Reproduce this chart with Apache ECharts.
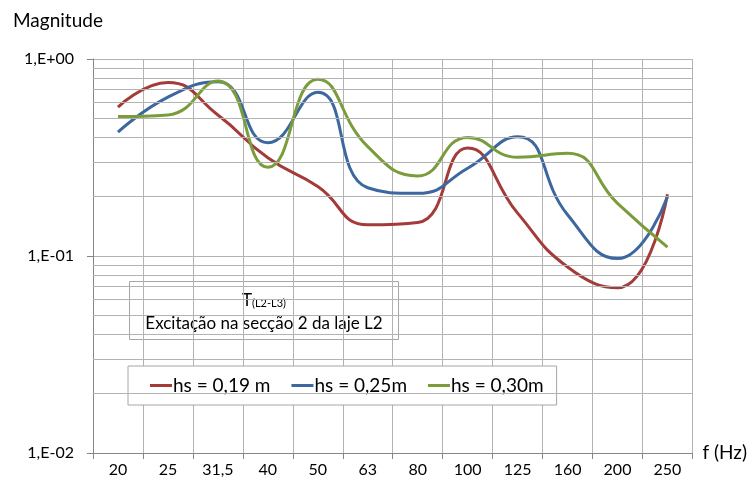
<!DOCTYPE html>
<html>
<head>
<meta charset="utf-8">
<script src="https://cdn.jsdelivr.net/npm/echarts@6/dist/echarts.min.js"></script>
<style>
  html, body { margin: 0; padding: 0; background: #fff; }
  #chart { width: 750px; height: 486px; }
</style>
</head>
<body>
<div id="chart"></div>
<script>
const categories = ['20', '25', '31,5', '40', '50', '63', '80', '100', '125', '160', '200', '250']
const hs019 = [0.57, 0.76, 0.52, 0.315, 0.225, 0.144, 0.148, 0.353, 0.165, 0.088, 0.069, 0.206]
const hs025 = [0.425, 0.64, 0.767, 0.376, 0.677, 0.222, 0.208, 0.279, 0.403, 0.162, 0.097, 0.2]
const hs030 = [0.51, 0.52, 0.773, 0.282, 0.789, 0.359, 0.255, 0.40, 0.317, 0.332, 0.185, 0.111]
const seriesNames = ['hs = 0,19 m', 'hs = 0,25m', 'hs = 0,30m']
const minorGrid = [0.02, 0.03, 0.04, 0.05, 0.06, 0.07, 0.08, 0.09, 0.2, 0.3, 0.4, 0.5, 0.6, 0.7, 0.8, 0.9]

const font = 'Lato'
const colors = ['#a33b39', '#3c679f', '#7a9c3a']
const gridColor = '#b3b3b3'
const axisColor = '#868686'

const fmtExp = (v) => {
    const e = Math.round(Math.log10(v))
    const a = Math.abs(e)
    return '1,E' + (e >= 0 ? '+' : '-') + (a < 10 ? '0' : '') + a
}

const chart = echarts.init(document.getElementById('chart'))
chart.setOption({
    animation: false,
    color: colors,
    textStyle: { fontFamily: font },
    title: {
        text: 'Magnitude',
        left: 8,
        top: 6,
        textStyle: { fontFamily: font, fontSize: 19, fontWeight: 'normal', color: '#000' }
    },
    grid: { left: 93, right: 54, top: 59, bottom: 33 },
    legend: {
        data: seriesNames,
        left: 128,
        top: 366,
        padding: [10, 13, 10, 22],
        backgroundColor: '#fff',
        borderColor: '#a6a6a6',
        borderWidth: 1,
        icon: 'rect',
        itemWidth: 22,
        itemHeight: 3,
        itemGap: 21,
        textStyle: { fontFamily: font, fontSize: 19, color: '#000', padding: [0, 0, 0, -4] }
    },
    xAxis: {
        type: 'category',
        data: categories,
        boundaryGap: true,
        name: 'f (Hz)',
        nameLocation: 'end',
        nameGap: 10,
        nameTextStyle: { fontFamily: font, fontSize: 19, color: '#000' },
        axisLine: { lineStyle: { color: axisColor } },
        axisTick: { show: true, length: 6, lineStyle: { color: axisColor } },
        axisLabel: { fontFamily: font, fontSize: 16, color: '#000', margin: 9 },
        splitLine: { show: true, lineStyle: { color: gridColor, width: 1 } }
    },
    yAxis: {
        type: 'log',
        logBase: 10,
        min: 0.01,
        max: 1,
        axisLine: { show: true, lineStyle: { color: axisColor } },
        axisTick: { show: true, length: 6, lineStyle: { color: axisColor } },
        axisLabel: { fontFamily: font, fontSize: 16, color: '#000', margin: 19, formatter: fmtExp },
        splitLine: { show: true, lineStyle: { color: gridColor, width: 1 } }
    },
    graphic: [
        {
            type: 'group',
            left: 129,
            top: 281,
            z: 10,
            children: [
                {
                    type: 'rect',
                    shape: { x: 0, y: 0, width: 269, height: 58 },
                    style: { fill: '#fff', stroke: '#a6a6a6', lineWidth: 1 }
                },
                {
                    type: 'text',
                    x: 134.5,
                    y: 19,
                    style: {
                        text: '{t|T}{s|(L2-L3)}',
                        align: 'center',
                        verticalAlign: 'middle',
                        rich: {
                            t: { fontFamily: font, fontSize: 17, fill: '#000' },
                            s: { fontFamily: font, fontSize: 11, fill: '#000', padding: [6, 0, 0, 0] }
                        }
                    }
                },
                {
                    type: 'text',
                    x: 134.5,
                    y: 42,
                    style: {
                        text: 'Excitação na secção 2 da laje L2',
                        fontFamily: font,
                        fontSize: 17,
                        fill: '#000',
                        align: 'center',
                        verticalAlign: 'middle'
                    }
                }
            ]
        }
    ],
    series: [
        ...[hs019, hs025, hs030].map((vals, i) => ({
            name: seriesNames[i],
            type: 'line',
            smooth: 0.5,
            symbol: 'none',
            z: 3,
            itemStyle: { color: colors[i] },
            lineStyle: { width: 3, color: colors[i] },
            data: vals
        })),
        {
            name: 'minor-grid',
            type: 'line',
            data: [],
            z: 1,
            silent: true,
            markLine: {
                silent: true,
                symbol: 'none',
                label: { show: false },
                lineStyle: { color: gridColor, type: 'solid', width: 1 },
                data: minorGrid.map((v) => ({ yAxis: v }))
            }
        }
    ]
})
</script>
</body>
</html>
